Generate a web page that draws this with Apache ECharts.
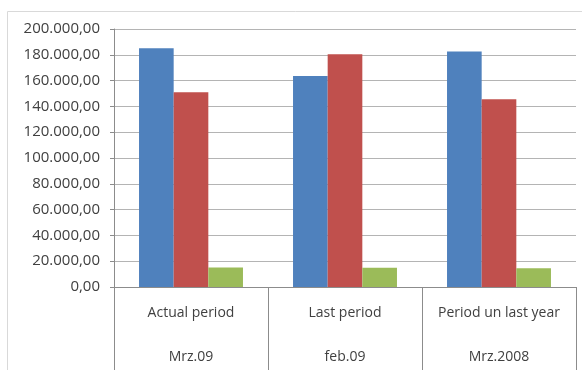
<!DOCTYPE html>
<html><head><meta charset="utf-8">
<script src="https://cdn.jsdelivr.net/npm/echarts@6/dist/echarts.min.js"></script>
<style>html,body{margin:0;padding:0;background:#fff}#c{width:582px;height:370px}</style>
</head><body><div id="c"></div>
<script>
var categories = ['Actual period', 'Last period', 'Period un last year'];
var periods = ['Mrz.09', 'feb.09', 'Mrz.2008'];
var seriesA = [185000, 163500, 182500];
var seriesB = [151000, 180500, 145500];
var seriesC = [15200, 15000, 14500];
var yTicks = [0, 20000, 40000, 60000, 80000, 100000, 120000, 140000, 160000, 180000, 200000];

function fmt(v) {
  var s = String(Math.round(v)).replace(/\B(?=(\d{3})+(?!\d))/g, '.');
  return s + ',00';
}
var labels = categories.map(function (c, i) { return c + '\n' + periods[i]; });
var font = 'Open Sans';
var chart = echarts.init(document.getElementById('c'), null, {renderer: 'canvas'});
chart.setOption({
  animation: false,
  graphic: [{type: 'rect', shape: {x: 7.5, y: 11.5, width: 600, height: 400}, style: {fill: 'none', stroke: '#d9d9d9', lineWidth: 1}, z: -1}],
  grid: {left: 114, right: 6, top: 29, bottom: 83, containLabel: false, outerBoundsMode: 'none'},
  xAxis: {
    type: 'category', data: labels,
    axisLine: {lineStyle: {color: '#8c8c8c', width: 1}},
    axisTick: {show: true, length: 90, lineStyle: {color: '#8c8c8c'}},
    axisLabel: {margin: 4, interval: 0, lineHeight: 44, fontFamily: font, fontSize: 14, color: '#404040'}
  },
  yAxis: {
    type: 'value', min: yTicks[0], max: yTicks[yTicks.length - 1], interval: yTicks[1] - yTicks[0],
    axisLine: {show: true, lineStyle: {color: '#8c8c8c'}},
    axisTick: {show: true, length: 4, lineStyle: {color: '#8c8c8c'}},
    splitLine: {lineStyle: {color: '#b4b4b4', width: 1}},
    axisLabel: {margin: 14, formatter: fmt, fontFamily: font, fontSize: 15, color: '#404040'}
  },
  series: [
    {name: 'A', type: 'bar', data: seriesA, itemStyle: {color: '#4f81bd'}, barGap: '0%', barCategoryGap: '32.5%'},
    {name: 'B', type: 'bar', data: seriesB, itemStyle: {color: '#c0504d'}},
    {name: 'C', type: 'bar', data: seriesC, itemStyle: {color: '#9bbb59'}}
  ]
});
</script></body></html>
